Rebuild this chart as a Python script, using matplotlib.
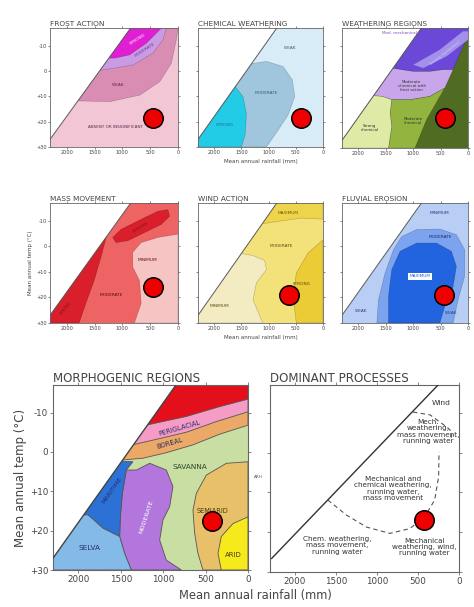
import matplotlib.pyplot as plt
from matplotlib.patches import Polygon

# climate space shared by all diagrams: rainfall (mm) falls to the right, temperature (°C) rises downwards
rain_ticks = [2000, 1500, 1000, 500, 0]
rain_tick_labels = ["2000", "1500", "1000", "500", "0"]
temp_ticks = [-10, 0, 10, 20, 30]
temp_tick_labels = ["-10", "0", "+10", "+20", "+30"]
rain_range = [2300, 0]
temp_range = [30, -17]
limit_line = [(2300, 27), (850, -17)]
process_limit = [(2280, 26.6), (255, -17)]

# frost action
frost_weak = [(2300, 11.5), (1224, 12.1), (687, 9.5), (328, 4.2), (119, -3.1), (30, -12.4), (0, -17), (2300, -17)]
frost_moderate = [(2300, -0.5), (1343, -0.45), (806, -2.4), (448, -7.1), (269, -12.4), (209, -17), (2300, -17)]
frost_strong = [(2300, -5), (1134, -5.1), (866, -6.4), (567, -11), (328, -16.3), (299, -17), (2300, -17)]

# chemical weathering
chem_moderate = [(2300, -2.8), (1349, -2.8), (1042, -3.8), (736, -1.8), (564, 3.5), (521, 10.1),
                 (644, 17.4), (828, 23.4), (1042, 30), (2300, 30)]
chem_strong = [(2300, 5.9), (1625, 5.9), (1471, 10.1), (1410, 16.8), (1428, 24.7), (1502, 30), (2300, 30)]

# weathering regions
weath_mech = [(2300, -1.3), (1392, -1.3), (998, 0), (696, 0), (454, -0.7), (272, -0.7), (91, -9.8),
              (0, -13.7), (0, -17), (2300, -17)]
weath_mech_band = [(998, -2.6), (514, -8.5), (91, -15.7), (0, -15.7), (0, -12.4), (393, -5.9), (817, -1.3)]
weath_frost_chem = [(2300, -1.3), (1392, -1.3), (998, 0), (696, 0), (454, -0.7), (272, -0.7), (424, 6.5),
                    (696, 9.8), (1059, 11.1), (1392, 11.1), (1560, 9.8), (2300, 8.5)]
weath_mod_chem = [(1452, 30), (968, 30), (756, 18.9), (514, 9.8), (424, 6.5), (696, 9.8), (1059, 11.1),
                  (1392, 11.1), (1422, 16.3), (1392, 21.5)]
weath_strong_chem = [(2300, 30), (1452, 30), (1392, 21.5), (1422, 16.3), (1392, 11.1), (1560, 9.8), (2300, 8.5)]

# mass movement
mass_slight = [(783, 30), (662, 22.3), (692, 13.3), (813, 8.1), (813, 2.3), (662, -1.5), (361, -3.5),
               (0, -4.8), (0, 30)]
mass_strong_cold = [(1174, -3.5), (1023, -6.7), (662, -10.6), (361, -13.8), (181, -14.4), (150, -11.8),
                    (301, -8.6), (602, -5.4), (903, -2.2), (1114, -1.5)]
mass_strong_wet = [(2300, 30), (1776, 30), (1656, 22.3), (1505, 13.3), (1385, 4.3), (1290, -3.5), (2300, -3.5)]

# wind action
wind_max = [(2300, -8.5), (1226, -8.5), (828, -9.8), (398, -11.1), (0, -10.7), (0, -17), (2300, -17)]
wind_min = [(2300, 2.9), (1471, 2.9), (1287, 3.6), (1073, 5.5), (1042, 9.1), (1226, 14.3), (1287, 20.9),
            (1134, 28.7), (1103, 30), (2300, 30)]
wind_strong = [(490, 30), (552, 19.6), (490, 10.4), (276, 2.6), (0, -2.6), (0, 30)]

# fluvial erosion
fluv_moderate = [(1664, 30), (1634, 20.9), (1513, 10.4), (1361, 1.3), (1210, -3.9), (938, -6.6), (514, -6.8),
                 (212, -4.6), (61, 1.3), (61, 11.7), (182, 20.9), (272, 30)]
fluv_max = [(1452, 30), (1452, 19.6), (1392, 9.1), (1240, 1.9), (938, -1.3), (575, -1.3), (303, 1.9),
            (212, 7.8), (272, 15.7), (424, 23.5), (514, 30)]

# morphogenic regions
glacial = [(2300, -6.8), (1200, -6.8), (727, -9.0), (334, -11.5), (0, -13.4), (0, -17), (2300, -17)]
periglacial = [(2300, -1.9), (1341, -1.9), (1081, -3.2), (727, -5.0), (374, -7.7), (0, -10.2), (0, -17), (2300, -17)]
boreal = [(2300, 2.2), (1455, 2.0), (1239, 1.6), (963, 0.2), (649, -1.8), (334, -4.5), (0, -6.8), (0, -17), (2300, -17)]
maritime = [(1750, 2.1), (1357, 2.5), (1435, 4.6), (1482, 10.5), (1506, 16.5), (1514, 21.5), (1710, 19.4),
            (1887, 16.0), (2300, 16.0), (2300, 2.1)]
selva = [(2300, 16), (1887, 16), (1710, 19.4), (1514, 21.5), (1455, 25.8), (1376, 30), (2300, 30)]
moderate = [(1317, 4.6), (1160, 2.9), (963, 4.6), (885, 8.8), (924, 13.9), (1003, 17.3), (1042, 22.4),
            (963, 27.5), (786, 30), (1376, 30), (1455, 25.8), (1514, 21.5), (1506, 16.5), (1482, 10.5), (1435, 4.6)]
semiarid = [(0, 2.5), (256, 2.9), (492, 5.9), (609, 10.5), (649, 14.8), (629, 20.7), (590, 25.8), (531, 30), (0, 30)]
arid = [(0, 16.5), (177, 18.2), (315, 21.5), (354, 25.8), (315, 30), (0, 30)]

# dominant process boundaries
proc_wind_edge = [(560, -10.2), (353, -9.5), (146, -6.4), (85, -5.2), (95, -3.6)]
proc_chem_edge = [(1597, 11.9), (1369, 15.7), (1126, 18.7), (842, 20.3), (599, 19.1), (417, 16.1),
                  (296, 11.9), (248, 6.1), (243, -0.2)]

# study site, one per diagram (rainfall mm, temp °C)
site_points = [(449, 18.5), (405, 18.5), (420, 18.2), (449, 15.9), (626, 19.0), (438, 19.0), (425, 17.6), (426, 16.9)]

W, H = 474, 607
fig = plt.figure(figsize=(W / 100, H / 100), dpi=100)
plt.rcParams["font.family"] = ["DejaVu Sans"]


def add_panel(box):
    x0, y0, x1, y1 = box
    return fig.add_axes([x0 / W, 1 - y1 / H, (x1 - x0) / W, (y1 - y0) / H])


def style(ax, title, big=False, ylabels=False, xlabels=True):
    ax.set_xlim(rain_range)
    ax.set_ylim(temp_range)
    ax.set_xticks(rain_ticks)
    ax.set_yticks(temp_ticks)
    fs = 6.3 if big else 3.6
    ax.set_xticklabels(rain_tick_labels if xlabels else [], fontsize=fs, color="#444")
    ax.set_yticklabels(temp_tick_labels if ylabels else [], fontsize=fs, color="#444")
    ax.tick_params(length=2 if big else 1.3, width=0.5, pad=1.5 if big else 1, colors="#555",
                   top=True, right=True, labelcolor="#444")
    for s in ax.spines.values():
        s.set_color("#666")
        s.set_linewidth(0.8 if big else 0.6)
    ax.set_title(title, loc="left", fontsize=8.6 if big else 5.3, pad=2.5 if big else 1.4, color="#444")


def base(ax, color):
    pts = [limit_line[0], limit_line[1], (rain_range[1], temp_range[1]),
           (rain_range[1], temp_range[0]), (rain_range[0], temp_range[0])]
    p = Polygon(pts, closed=True, facecolor=color, edgecolor="none")
    ax.add_patch(p)
    return p


def zone(ax, pts, color, clip, edge="#00000040", lw=0.4):
    p = Polygon(pts, closed=True, facecolor=color, edgecolor=edge, linewidth=lw)
    ax.add_patch(p)
    p.set_clip_path(clip)


def limit(ax, line=limit_line, color="#5a5a5a", lw=0.7):
    xs, ys = zip(*line)
    ax.plot(xs, ys, color=color, lw=lw, zorder=5)


def txt(ax, x, y, s, fs=3.1, rot=0, color="#333", **kw):
    ax.text(x, y, s, fontsize=fs, rotation=rot, color=color, ha="center", va="center",
            linespacing=1.05, zorder=6, **kw)


def site(ax, pt, ms=14):
    ax.plot([pt[0]], [pt[1]], "o", ms=ms, mfc="#ee0000", mec="black", mew=1.1, zorder=10, clip_on=False)


# frost action
ax = add_panel((50, 28, 178, 147))
c = base(ax, "#f3c6d6")
zone(ax, frost_weak, "#d98db2", c)
zone(ax, frost_moderate, "#c99be4", c)
zone(ax, frost_strong, "#e01fd4", c)
limit(ax)
txt(ax, 716, -12.4, "STRONG", rot=33, color="white")
txt(ax, 600, -8.2, "MODERATE", rot=33, color="#6a3a9a")
txt(ax, 1075, 5.5, "WEAK", color="#5a2a4a")
txt(ax, 1120, 22, "ABSENT OR INSIGNIFICANT", fs=3.0, color="#5a2a4a")
style(ax, "FROST ACTION", ylabels=True)
site(ax, site_points[0])

# chemical weathering
ax = add_panel((198, 28, 323, 147))
c = base(ax, "#d8ecf7")
zone(ax, chem_moderate, "#9fc6dc", c)
zone(ax, chem_strong, "#22cbe6", c)
limit(ax)
txt(ax, 613, -9, "WEAK", color="#3a5a7a")
txt(ax, 1042, 8.8, "MODERATE", color="#3a5a7a")
txt(ax, 1800, 21.4, "STRONG", color="#2a6a8a")
style(ax, "CHEMICAL WEATHERING")
ax.set_xlabel("Mean annual rainfall (mm)", fontsize=4, color="#444", labelpad=3)
site(ax, site_points[1])

# weathering regions
ax = add_panel((342, 28, 468, 148))
c = base(ax, "#506b22")
zone(ax, weath_mech, "#6b48d8", c)
zone(ax, weath_mech_band, "#a290ea", c, edge="none")
zone(ax, weath_frost_chem, "#c9a6ec", c)
zone(ax, weath_mod_chem, "#93b540", c)
zone(ax, weath_strong_chem, "#dfeaa6", c)
limit(ax)
txt(ax, 1250, -15, "Mod. mechanical", fs=3.0, color="#7a4fc8")
txt(ax, 420, -7, "Strong mechanical", fs=2.8, rot=38, color="#d8ccf8")
txt(ax, 1028, 5.6, "Moderate\nchemical with\nfrost action", fs=2.9)
txt(ax, 1000, 19.4, "Moderate\nchemical", fs=2.9)
txt(ax, 1800, 22.2, "Strong\nchemical", fs=2.9)
style(ax, "WEATHERING REGIONS")
site(ax, site_points[2])

# mass movement
ax = add_panel((50, 203, 178, 323))
c = base(ax, "#ee6464")
zone(ax, mass_slight, "#f7c4c4", c)
zone(ax, mass_strong_cold, "#d81f2b", c)
zone(ax, mass_strong_wet, "#d81f2b", c)
limit(ax)
txt(ax, 662, -7.6, "STRONG", rot=32, color="#8a1010")
txt(ax, 2020, 24.2, "STRONG", fs=2.6, rot=52, color="#8a1010")
txt(ax, 1204, 19.1, "MODERATE", color="#5a1010")
txt(ax, 542, 5.5, "MINIMUM", color="#5a1010")
style(ax, "MASS MOVEMENT", ylabels=True)
ax.set_ylabel("Mean annual temp (°C)", fontsize=4, color="#444", labelpad=2)
site(ax, site_points[3])

# wind action
ax = add_panel((198, 203, 323, 323))
c = base(ax, "#f3e17a")
zone(ax, wind_max, "#eed44a", c)
zone(ax, wind_min, "#f3ecc2", c)
zone(ax, wind_strong, "#ebcb36", c)
limit(ax)
txt(ax, 644, -13.1, "MAXIMUM", color="#6a5a10")
txt(ax, 766, 0.0, "MODERATE", color="#5a4a10")
txt(ax, 398, 14.6, "STRONG", color="#5a4a10")
txt(ax, 1900, 23.5, "MINIMUM", color="#5a4a10")
style(ax, "WIND ACTION")
ax.set_xlabel("Mean annual rainfall (mm)", fontsize=4, color="#444", labelpad=3)
site(ax, site_points[4])

# fluvial erosion
ax = add_panel((342, 203, 468, 323))
c = base(ax, "#b8cef4")
zone(ax, fluv_moderate, "#7ba3ee", c)
zone(ax, fluv_max, "#2263e0", c)
limit(ax)
txt(ax, 514, -13, "MINIMUM", color="#2a3a7a")
txt(ax, 514, -3.7, "MODERATE", color="#1a2a6a")
txt(ax, 877, 11.7, "MAXIMUM", color="#2263e0", fs=3.1,
    bbox=dict(boxstyle="square,pad=0.3", fc="white", ec="none"))
txt(ax, 1950, 25.4, "WEAK", color="#2a3a7a")
txt(ax, 303, 26.1, "WEAK", color="#2a3a7a")
style(ax, "FLUVIAL EROSION")
site(ax, site_points[5])

# morphogenic regions
ax = add_panel((53, 385, 248, 570))
c = base(ax, "#c9dea2")
zone(ax, boreal, "#eba866", c, edge="#555", lw=0.6)
zone(ax, periglacial, "#f59cc6", c, edge="#555", lw=0.6)
zone(ax, glacial, "#e3101c", c, edge="#555", lw=0.6)
zone(ax, semiarid, "#e8c06a", c, edge="#555", lw=0.6)
zone(ax, arid, "#f6e91c", c, edge="#555", lw=0.6)
zone(ax, moderate, "#b276dc", c, edge="#555", lw=0.6)
zone(ax, maritime, "#2c72d6", c, edge="#555", lw=0.6)
zone(ax, selva, "#84bae8", c, edge="#555", lw=0.6)
limit(ax, color="#444", lw=1.0)
mc = "#2a2a6a"
txt(ax, 806, -6.0, "PERIGLACIAL", fs=4.9, rot=16, color=mc)
txt(ax, 924, -2.2, "BOREAL", fs=4.9, rot=16, color=mc)
txt(ax, 688, 3.8, "SAVANNA", fs=5.3, color="#2a4a2a")
txt(ax, 1600, 9.7, "MARITIME", fs=4.6, rot=55, color=mc)
txt(ax, 1199, 16.5, "MODERATE", fs=4.6, rot=72, color="white")
txt(ax, 420, 15.0, "SEMIARID", fs=4.8, color="#4a3a10")
txt(ax, 1867, 24.5, "SELVA", fs=5.2, color=mc)
txt(ax, 177, 26.2, "ARID", fs=5.0, color="#4a3a10")
style(ax, "MORPHOGENIC REGIONS", big=True, ylabels=True)
ax.set_ylabel("Mean annual temp (°C)", fontsize=8.5, color="#444", labelpad=2)
site(ax, site_points[6], ms=14)

# dominant processes
ax = add_panel((270, 385, 459, 572))
limit(ax, line=process_limit, color="#333", lw=1.0)
for edge in (proc_wind_edge, proc_chem_edge):
    xs, ys = zip(*edge)
    ax.plot(xs, ys, color="#555", lw=0.8, ls=(0, (4, 3)))
pc = "#333"
txt(ax, 215, -12.6, "Wind", fs=5.4, color=pc)
txt(ax, 377, -5.3, "Mech.\nweathering,\nmass movement,\nrunning water", fs=5.2, color=pc)
txt(ax, 802, 9.0, "Mechanical and\nchemical weathering,\nrunning water,\nmass movement", fs=5.2, color=pc)
txt(ax, 1480, 23.3, "Chem. weathering,\nmass movement,\nrunning water", fs=5.2, color=pc)
txt(ax, 417, 23.7, "Mechanical\nweathering, wind,\nrunning water", fs=5.2, color=pc)
style(ax, "DOMINANT PROCESSES", big=True)
site(ax, site_points[7], ms=14)

fig.text(258 / W, 1 - 477 / H, "ARH", fontsize=3, color="#555", ha="center", va="center")
fig.text(255 / W, 1 - 595 / H, "Mean annual rainfall (mm)", fontsize=8.3, color="#444",
         ha="center", va="center")

fig.savefig("out.png", dpi=100, facecolor="white")
